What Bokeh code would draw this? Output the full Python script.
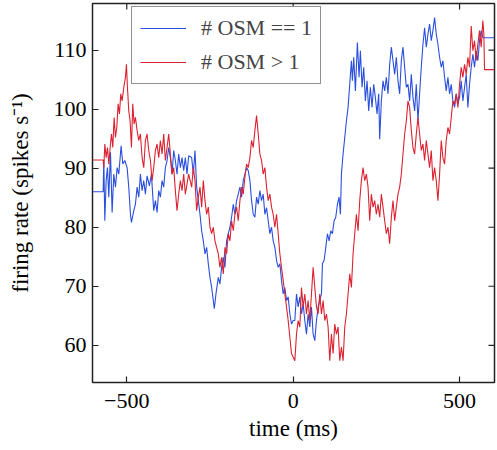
import math
from bokeh.plotting import figure
from bokeh.models import Range1d, FixedTicker, Legend, LegendItem
from bokeh.embed import file_html
from bokeh.resources import INLINE

# ---- data ----
blue_t = [-603, -571, -569, -566, -562, -558, -554, -549, -544, -539, -534, -529, -524, -517, -512,
          -506, -499, -494, -489, -486, -479, -474, -469, -464, -459, -454, -449, -444, -439, -432,
          -426, -419, -414, -409, -404, -399, -394, -389, -384, -379, -374, -369, -364, -359, -354,
          -349, -344, -339, -334, -329, -324, -319, -314, -305, -300, -295, -290, -285, -280, -275,
          -270, -265, -260, -255, -250, -245, -240, -237, -232, -225, -220, -215, -210, -205, -200,
          -195, -190, -185, -180, -175, -170, -165, -160, -155, -150, -145, -140, -135, -130, -125,
          -120, -115, -110, -105, -100, -95, -90, -85, -80, -75, -70, -65, -60, -55, -50,
          -45, -40, -35, -30, -25, -20, -15, -10, -5, 0, 5, 10, 15, 20, 25,
          30, 35, 40, 45, 50, 55, 60, 65, 70, 75, 80, 85, 88, 93, 98,
          103, 108, 113, 118, 123, 128, 133, 138, 142, 145, 150, 155, 160, 165, 170,
          175, 178, 182, 187, 193, 198, 202, 207, 212, 217, 222, 227, 232, 237, 242,
          247, 252, 257, 260, 265, 270, 275, 280, 285, 290, 295, 300, 305, 310, 315,
          320, 325, 330, 335, 340, 345, 350, 355, 360, 365, 370, 375, 380, 385, 390,
          395, 400, 405, 410, 415, 420, 425, 430, 435, 440, 445, 450, 455, 460, 465,
          470, 475, 480, 485, 490, 495, 500, 505, 510, 515, 520, 525, 530, 535, 540,
          545, 550, 555, 560, 565, 570, 575, 605]
blue_v = [86.0, 86.0, 91.3, 81.1, 87.9, 90.1, 85.1, 92.7, 82.5, 89.0, 86.8, 90.1, 89.0, 93.8, 90.7,
          91.3, 90.1, 86.8, 82.2, 80.8, 82.8, 83.9, 86.8, 85.1, 89.0, 86.2, 87.9, 85.6, 88.7, 87.0,
          89.0, 82.8, 84.5, 82.5, 86.2, 85.1, 87.9, 86.8, 90.1, 91.3, 93.5, 91.8, 89.0, 93.0, 91.3,
          89.0, 92.4, 90.1, 91.8, 89.6, 91.8, 89.0, 92.1, 91.8, 89.0, 93.0, 86.8, 84.5, 82.2, 79.4,
          77.7, 75.5, 76.6, 73.8, 71.5, 69.8, 67.6, 66.2, 68.7, 71.5, 70.4, 73.2, 74.9, 73.2, 77.7,
          78.9, 80.0, 81.7, 83.9, 82.2, 84.5, 85.6, 86.8, 85.1, 87.9, 89.0, 90.1, 89.6, 87.9, 84.5,
          82.2, 81.7, 85.1, 83.9, 86.2, 84.5, 85.6, 82.2, 83.3, 81.1, 78.9, 80.0, 77.7, 76.6, 74.4,
          73.2, 73.8, 71.0, 68.7, 69.8, 67.6, 68.2, 65.3, 63.6, 64.2, 64.2, 68.7, 66.5, 68.2, 65.3,
          67.0, 64.2, 61.9, 65.3, 63.1, 66.5, 61.9, 60.8, 64.2, 66.5, 67.6, 68.7, 73.8, 74.4, 76.6,
          78.9, 77.7, 79.4, 78.9, 81.1, 81.7, 83.9, 85.1, 82.2, 89.0, 92.4, 95.2, 98.0, 100.3, 104.2,
          108.2, 104.8, 108.8, 103.1, 111.3, 105.4, 109.9, 103.7, 107.1, 101.4, 104.8, 99.7, 103.7, 100.3, 104.2,
          102.0, 99.2, 102.6, 94.9, 101.4, 104.8, 103.1, 105.4, 102.6, 107.6, 110.5, 108.2, 105.9, 108.8, 104.8,
          102.6, 108.2, 110.5, 107.1, 103.7, 104.2, 101.4, 105.9, 102.0, 99.7, 104.2, 98.0, 102.6, 107.1, 111.0,
          113.8, 110.5, 112.7, 114.4, 111.6, 113.3, 115.5, 112.7, 111.0, 108.8, 107.1, 108.2, 105.4, 103.1, 105.4,
          102.6, 104.2, 101.4, 100.3, 102.6, 100.9, 102.0, 104.8, 101.4, 103.7, 105.9, 100.3, 104.2, 107.1, 109.3,
          107.1, 109.9, 108.2, 111.6, 113.3, 112.1, 112.1, 112.1]

red_t = [-603, -571, -569, -566, -562, -558, -554, -549, -546, -542, -538, -534, -530, -526, -522,
         -518, -514, -509, -504, -501, -498, -494, -490, -486, -482, -478, -474, -469, -464, -459,
         -454, -449, -444, -439, -434, -429, -424, -419, -414, -409, -404, -399, -394, -389, -384,
         -379, -374, -369, -364, -359, -354, -349, -344, -339, -334, -329, -324, -319, -314, -305,
         -300, -295, -290, -285, -280, -275, -270, -265, -260, -255, -250, -245, -240, -235, -230,
         -225, -220, -215, -210, -205, -200, -195, -190, -185, -180, -175, -170, -165, -160, -155,
         -150, -145, -140, -135, -130, -125, -120, -115, -110, -105, -100, -95, -90, -85, -80,
         -75, -70, -65, -60, -55, -50, -45, -40, -35, -30, -25, -20, -15, -10, -5,
         5, 10, 15, 20, 25, 30, 35, 40, 45, 50, 55, 60, 65, 70, 75,
         80, 85, 90, 95, 100, 105, 110, 115, 120, 125, 130, 135, 140, 145, 150,
         155, 160, 165, 170, 175, 180, 185, 190, 195, 200, 205, 210, 215, 220, 225,
         230, 235, 240, 245, 250, 255, 260, 265, 270, 275, 280, 285, 290, 295, 300,
         305, 310, 315, 320, 325, 330, 335, 340, 345, 350, 355, 360, 365, 370, 375,
         380, 385, 390, 395, 400, 405, 410, 415, 420, 425, 430, 435, 440, 445, 450,
         455, 460, 465, 470, 475, 480, 485, 490, 495, 500, 505, 510, 515, 520, 525,
         530, 535, 540, 545, 550, 555, 560, 565, 570, 573, 575, 605]
red_v = [91.4, 91.4, 90.1, 94.1, 91.8, 93.5, 90.7, 94.1, 95.8, 93.5, 98.6, 95.2, 96.9, 100.9, 99.2,
         102.6, 101.4, 103.7, 105.4, 107.6, 103.7, 99.7, 98.0, 93.5, 100.9, 97.5, 98.6, 96.4, 94.7, 95.8,
         91.8, 90.1, 94.7, 95.8, 93.0, 91.3, 87.9, 90.1, 93.0, 94.1, 91.8, 94.7, 92.4, 95.8, 91.3,
         93.5, 95.8, 92.4, 89.0, 90.1, 86.2, 82.8, 85.6, 87.9, 86.2, 89.0, 85.6, 87.3, 89.0, 86.8,
         90.1, 87.9, 82.8, 85.1, 86.8, 83.4, 87.9, 84.5, 82.2, 83.4, 80.0, 78.9, 80.0, 77.7, 76.6,
         75.5, 73.2, 74.9, 72.1, 76.6, 75.5, 78.9, 77.7, 81.1, 79.4, 82.2, 83.4, 81.1, 84.5, 86.8,
         85.6, 88.5, 90.7, 90.1, 91.8, 94.7, 93.5, 96.4, 98.9, 95.8, 92.4, 91.3, 89.0, 90.1, 86.8,
         84.5, 85.6, 83.4, 82.2, 80.0, 82.2, 78.9, 75.5, 73.2, 71.0, 68.7, 66.5, 64.2, 61.4, 58.6,
         57.4, 61.9, 64.2, 63.1, 69.8, 66.5, 68.7, 65.3, 67.6, 64.2, 68.7, 73.2, 69.8, 66.5, 65.3,
         68.7, 65.3, 67.6, 64.2, 65.3, 63.1, 57.4, 61.9, 58.6, 63.6, 61.9, 63.1, 57.4, 59.7, 57.4,
         63.1, 65.3, 68.7, 72.1, 69.8, 75.5, 78.9, 82.2, 79.4, 84.5, 87.9, 90.1, 87.9, 89.0, 86.8,
         81.1, 85.6, 83.4, 84.5, 82.2, 83.9, 81.7, 85.6, 83.4, 81.1, 78.9, 80.0, 77.2, 81.7, 84.5,
         81.1, 83.4, 85.6, 86.8, 89.0, 92.4, 95.8, 98.0, 101.4, 100.3, 96.4, 93.5, 92.4, 95.8, 98.6,
         95.8, 93.0, 94.1, 91.3, 94.7, 92.4, 90.1, 93.0, 87.9, 90.1, 87.9, 84.5, 89.0, 94.7, 91.8,
         90.7, 94.7, 96.9, 95.8, 98.6, 101.4, 100.9, 102.6, 100.3, 104.2, 107.1, 105.4, 107.6, 105.9, 108.8,
         107.1, 114.1, 109.9, 111.6, 108.2, 111.0, 113.3, 110.5, 115.0, 112.7, 106.7, 106.7]

series_labels = ["# OSM == 1", "# OSM > 1"]
x_ticks = [-500, 0, 500]
x_tick_labels = ["\u2212500", "0", "500"]
y_ticks = [60, 70, 80, 90, 100, 110]
y_tick_labels = ["60", "70", "80", "90", "100", "110"]
x_lim = (-603, 605)
y_lim = (53.7, 117.9)

FONT = "Liberation Serif"
AX = "#222222"
BLUE = "#2a4fdd"
RED = "#dc2230"
TICK_LEN = 6

p = figure(width=496, height=449, output_backend="svg", toolbar_location=None,
           x_range=Range1d(*x_lim), y_range=Range1d(*y_lim),
           min_border_left=92, min_border_right=2, min_border_top=3, min_border_bottom=67)
p.grid.visible = False
p.outline_line_color = AX
p.outline_line_width = 1.5
p.background_fill_color = "white"
p.border_fill_color = "white"

rb = p.line(blue_t, blue_v, line_color=BLUE, line_width=1.1)
rr = p.line(red_t, red_v, line_color=RED, line_width=1.1)

# mirrored tick marks on the top and right spines (matplotlib-style)
p.ray(x=x_ticks, y=[y_lim[1]] * len(x_ticks), length=TICK_LEN, length_units="screen",
      angle=-math.pi / 2, line_color=AX, line_width=1.2)
p.ray(x=[x_lim[1]] * len(y_ticks), y=y_ticks, length=TICK_LEN, length_units="screen",
      angle=math.pi, line_color=AX, line_width=1.2)

def style_axis(ax, ticks, labels):
    ax.ticker = FixedTicker(ticks=ticks)
    ax.minor_tick_line_color = None
    ax.major_tick_in = TICK_LEN
    ax.major_tick_out = 0
    ax.major_tick_line_color = AX
    ax.major_tick_line_width = 1.2
    ax.axis_line_color = None
    ax.major_label_text_font = FONT
    ax.major_label_text_font_size = "22px"
    ax.major_label_text_color = "black"
    ax.major_label_overrides = {t: l for t, l in zip(ticks, labels)}
    ax.axis_label_text_font = FONT
    ax.axis_label_text_font_size = "23px"
    ax.axis_label_text_font_style = "normal"
    ax.axis_label_text_color = "black"

xa = p.xaxis[0]
style_axis(xa, x_ticks, x_tick_labels)
xa.major_label_standoff = 11
xa.axis_label = "time (ms)"
xa.axis_label_standoff = 5

ya = p.yaxis[0]
style_axis(ya, y_ticks, y_tick_labels)
ya.major_label_standoff = 6
ya.axis_label = "firing rate (spikes s\u207b\u00b9)"
ya.axis_label_standoff = 18

legend = Legend(items=[LegendItem(label=series_labels[0], renderers=[rb]),
                       LegendItem(label=series_labels[1], renderers=[rr])],
                location=(39, 298), orientation="vertical")
legend.label_text_font = FONT
legend.label_text_font_size = "22px"
legend.glyph_width = 46
legend.glyph_height = 22
legend.label_height = 22
legend.label_standoff = 15
legend.padding = 8
legend.spacing = 8
legend.border_line_color = AX
legend.border_line_width = 1
legend.background_fill_color = "white"
legend.background_fill_alpha = 1.0
p.add_layout(legend, "center")

open("out.html", "w").write(file_html(p, INLINE))
